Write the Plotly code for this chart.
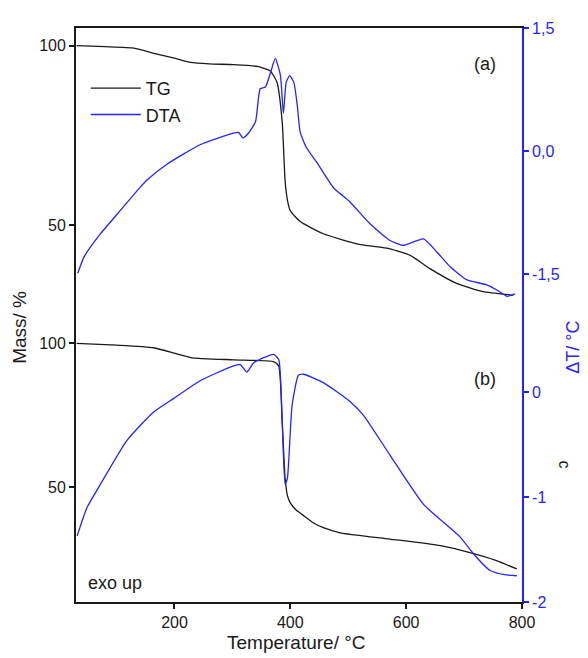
import plotly.graph_objects as go

# ---- data (a) ----
temp_tg_a = [31, 80, 130, 170, 200, 228, 260, 302, 343, 365, 377, 386, 391, 395, 400, 417, 457, 515, 572, 607, 641, 687, 733, 779, 785]
mass_a = [100, 99.7, 99.3, 97.6, 96.5, 95.3, 94.9, 94.7, 94.2, 93.0, 89.8, 78.8, 62.3, 57.0, 54.0, 51.0, 47.6, 44.8, 43.4, 41.6, 37.9, 33.8, 31.5, 30.6, 30.5]

temp_dta_a = [33, 44, 72, 101, 141, 153, 187, 245, 302, 311, 318, 328, 340, 348, 357, 366, 374, 383, 388, 393, 399, 406, 412, 417, 428, 446, 475, 503, 538, 572, 595, 630, 653, 676, 705, 739, 756, 774, 788]
dta_a = [-1.49, -1.29, -1.01, -0.77, -0.44, -0.35, -0.16, 0.08, 0.22, 0.225, 0.16, 0.22, 0.36, 0.76, 0.78, 0.96, 1.13, 0.92, 0.46, 0.84, 0.92, 0.84, 0.56, 0.23, 0.04, -0.14, -0.45, -0.62, -0.89, -1.09, -1.15, -1.07, -1.23, -1.41, -1.57, -1.63, -1.69, -1.77, -1.74]

# ---- data (b) ----
temp_tg_b = [31, 100, 164, 228, 302, 371, 380, 386, 391, 395, 400, 410, 420, 440, 457, 486, 572, 659, 710, 756, 791]
mass_b = [100, 99.4, 98.5, 95.1, 94.3, 93.7, 92.2, 72.7, 53.1, 47.0, 44.5, 42.0, 40.5, 37.5, 35.9, 34.1, 31.9, 29.6, 27.2, 24.4, 21.5]

temp_dta_b = [32, 49, 72, 118, 164, 199, 245, 302, 314, 325, 337, 371, 380, 386, 391, 395, 403, 414, 423, 457, 503, 526, 572, 630, 693, 716, 745, 770, 791]
dta_b = [-1.37, -1.10, -0.88, -0.46, -0.19, -0.06, 0.11, 0.25, 0.26, 0.19, 0.28, 0.36, 0.31, -0.28, -0.88, -0.82, -0.13, 0.16, 0.17, 0.09, -0.09, -0.22, -0.60, -1.07, -1.38, -1.54, -1.70, -1.74, -1.75]

x_ticks = [200, 400, 600, 800]
mass_ticks = [50, 100]
dta_ticks_a = [-1.5, 0.0, 1.5]
dta_text_a = ["-1,5", "0,0", "1,5"]
dta_ticks_b = [-2, -1, 0]
dta_text_b = ["-2", "-1", "0"]

BLACK = "#1a1a1a"
BLUE = "#2424ff"
FONT = "Liberation Sans, Arial, sans-serif"

fig = go.Figure()
line_shape = dict(shape="spline", smoothing=0.5, width=1.3)

fig.add_trace(go.Scatter(x=temp_tg_a, y=mass_a, mode="lines", name="TG",
                         line=dict(color=BLACK, **line_shape), xaxis="x2", yaxis="y"))
fig.add_trace(go.Scatter(x=temp_dta_a, y=dta_a, mode="lines", name="DTA",
                         line=dict(color=BLUE, **line_shape), xaxis="x2", yaxis="y2"))
fig.add_trace(go.Scatter(x=temp_tg_b, y=mass_b, mode="lines", name="TG", showlegend=False,
                         line=dict(color=BLACK, **line_shape), xaxis="x", yaxis="y3"))
fig.add_trace(go.Scatter(x=temp_dta_b, y=dta_b, mode="lines", name="DTA", showlegend=False,
                         line=dict(color=BLUE, **line_shape), xaxis="x", yaxis="y4"))

split = 0.512
axis_common = dict(showgrid=False, zeroline=False, ticks="outside", ticklen=5, tickwidth=1.5,
                   linewidth=1.8, showline=True)

# page body has an 8px margin, so the figure is drawn 8px in from the top-left
fig.update_layout(
    width=580, height=650,
    margin=dict(l=68, r=66, t=14, b=56),
    paper_bgcolor="white", plot_bgcolor="white",
    font=dict(family=FONT, size=16, color=BLACK),
    xaxis=dict(domain=[0, 1], anchor="y3", range=[30, 800], tickvals=x_ticks,
               linecolor=BLACK, tickcolor=BLACK, **axis_common),
    xaxis2=dict(domain=[0, 1], anchor="y", range=[30, 800], matches="x", side="top",
                showticklabels=False, showline=True, linecolor=BLACK, linewidth=1.8,
                ticks="", showgrid=False, zeroline=False),
    yaxis=dict(domain=[split, 1], anchor="x2", range=[26.9, 104.9], tickvals=mass_ticks,
               linecolor=BLACK, tickcolor=BLACK, **axis_common),
    yaxis2=dict(domain=[split, 1], anchor="x2", overlaying="y", side="right",
                range=[-1.914, 1.5], tickvals=dta_ticks_a, ticktext=dta_text_a,
                linecolor=BLUE, tickcolor=BLUE, tickfont=dict(color=BLUE), **axis_common),
    yaxis3=dict(domain=[0, split], anchor="x", range=[10, 112.3], tickvals=mass_ticks,
                linecolor=BLACK, tickcolor=BLACK, **axis_common),
    yaxis4=dict(domain=[0, split], anchor="x", overlaying="y3", side="right",
                range=[-2, 0.80], tickvals=dta_ticks_b, ticktext=dta_text_b,
                linecolor=BLUE, tickcolor=BLUE, tickfont=dict(color=BLUE), **axis_common),
    legend=dict(x=0.022, y=0.927, xanchor="left", yanchor="top", bgcolor="rgba(0,0,0,0)",
                font=dict(size=18, color=BLACK), itemwidth=50, tracegroupgap=0),
    showlegend=True,
)

def px_to_paper(px, py):
    return (px - 76) / 446, (602 - py) / 580

annots = []
def add_text(text, px, py, size=17, color=BLACK, angle=0, xanchor="center"):
    x, y = px_to_paper(px, py)
    annots.append(dict(text=text, x=x, y=y, xref="paper", yref="paper", showarrow=False,
                       font=dict(size=size, color=color, family=FONT), textangle=angle,
                       xanchor=xanchor, yanchor="middle"))

add_text("(a)", 485, 58, size=18)
add_text("(b)", 485, 377, size=18)
add_text("exo up", 86, 583, size=18, xanchor="left")
add_text("Mass/ %", 20, 325, size=19, angle=-90)
add_text("Temperature/ °C", 296, 643, size=19)
add_text("ΔT/ °C", 573, 345, size=18, color=BLUE, angle=-90)
add_text("c", 565, 463, size=16, angle=90)

fig.update_layout(annotations=annots)

fig.write_html("out.html")
